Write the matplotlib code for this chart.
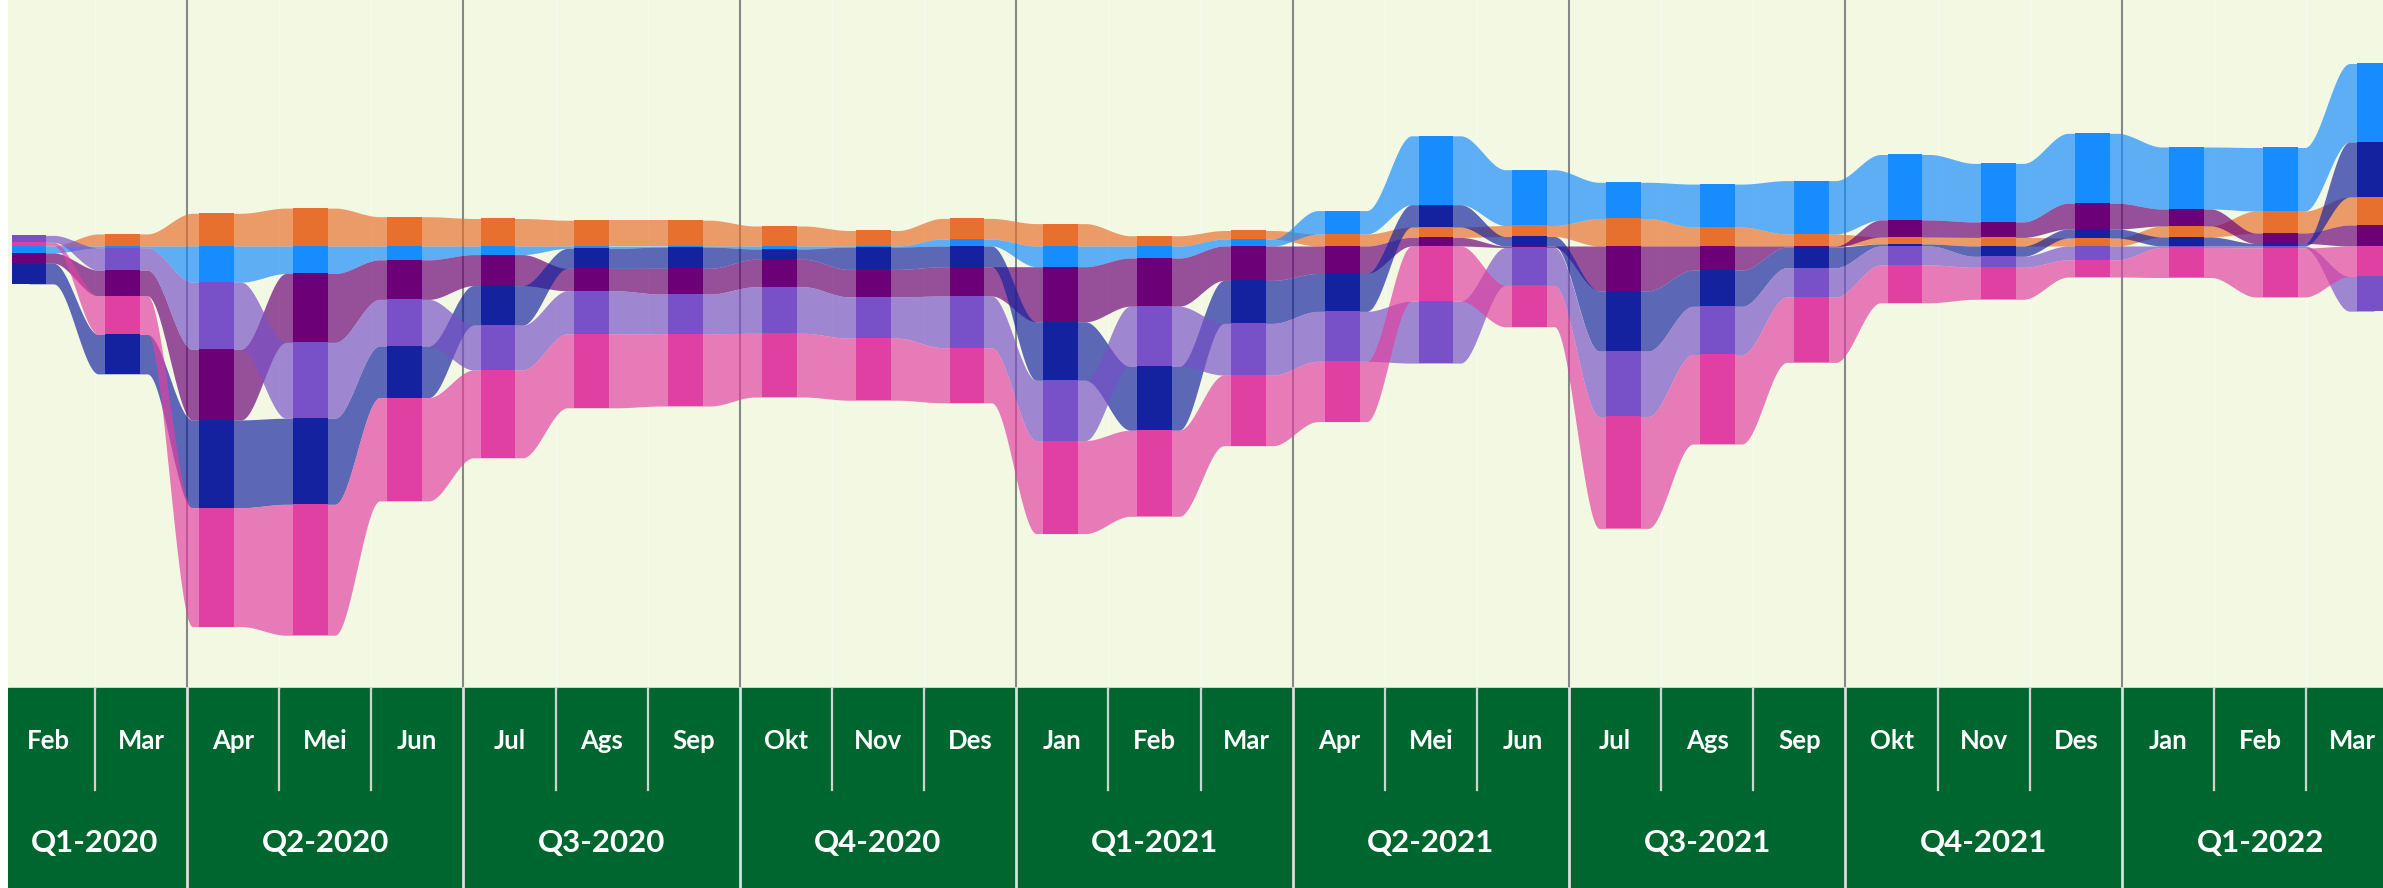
"""Ribbon chart, monthly values Feb-2020 .. Mar-2022 with quarter band"""
import matplotlib
matplotlib.use('Agg')
import matplotlib.pyplot as plt
import numpy as np

plt.rcParams['font.family'] = ['Lato', 'DejaVu Sans']

months = ['Feb', 'Mar', 'Apr', 'Mei', 'Jun', 'Jul', 'Ags', 'Sep', 'Okt', 'Nov', 'Des',
          'Jan', 'Feb', 'Mar', 'Apr', 'Mei', 'Jun', 'Jul', 'Ags', 'Sep', 'Okt', 'Nov', 'Des',
          'Jan', 'Feb', 'Mar']
quarters = ['Q1-2020', 'Q2-2020', 'Q3-2020', 'Q4-2020', 'Q1-2021',
            'Q2-2021', 'Q3-2021', 'Q4-2021', 'Q1-2022']
quarter_len = [2, 3, 3, 3, 3, 3, 3, 3, 3]

# values (positive = above the zero line)
orange     = [0.3, 12.1, 32.7, 37.9, 29.3, 27.5, 25.8, 25.8, 20.0, 15.5, 20.7, 22.4, 10.3,
              8.6, 12.0, 10.3, 11.0, 27.5, 18.9, 12.0, 6.9, 8.6, 8.0, 11.0, 22.0, 28.0]
light_blue = [-6.9, -1.7, -36.2, -27.5, -13.8, -8.6, -2.4, -1.0, -3.0, -1.0, 6.9, -20.7, -12.0,
              6.9, 23.4, 68.9, 55.8, 36.2, 43.0, 53.4, 65.4, 58.5, 69.9, 62.0, 63.5, 78.5]
purple     = [-10.3, -25.8, -70.6, -68.9, -39.6, -31.0, -22.4, -25.8, -27.5, -27.5, -29.3, -55.1, -48.2,
              -34.4, -27.5, 8.6, -1.5, -44.8, -24.1, -1.0, 17.2, 15.5, 25.8, 17.0, 10.5, 21.0]
navy       = [-20.7, -39.5, -87.8, -86.1, -51.7, -39.6, -20.0, -21.3, -10.3, -22.4, -20.7, -58.5, -63.7,
              -43.0, -37.9, 22.4, 9.5, -60.3, -36.2, -20.7, 2.0, -10.3, 9.0, 9.0, 2.5, 55.0]
violet     = [6.9, -22.4, -67.1, -75.8, -46.5, -44.8, -43.0, -39.6, -46.5, -41.3, -51.7, -60.3, -60.3,
              -51.7, -49.9, -62.0, -37.9, -65.4, -48.2, -29.3, -18.9, -11.0, -13.8, -1.5, -2.0, -34.7]
pink       = [3.4, -38.5, -118.8, -130.9, -103.3, -87.8, -74.0, -72.3, -63.7, -62.0, -55.1, -93.0, -86.1,
              -70.6, -60.3, -55.1, -41.3, -111.9, -89.5, -65.4, -37.9, -32.0, -17.2, -30.0, -49.0, -30.5]

series = [orange, light_blue, purple, navy, violet, pink]
colors = ['#e8702e', '#168cff', '#6b0077', '#1422a0', '#7850c8', '#e040a2']

CREAM = '#f3f8e3'
GREEN = '#00662f'
W, H = 2383, 888

data = np.array(series, dtype=float)
n = data.shape[1]

# stack: smallest magnitude next to the zero line, positives up, negatives down
lo = np.zeros_like(data)
hi = np.zeros_like(data)
for i in range(n):
    v = data[:, i]
    pos, neg = 0.0, 0.0
    for k in np.argsort(np.abs(v)):
        if v[k] >= 0:
            lo[k, i], hi[k, i] = pos, pos + v[k]
            pos += v[k]
        else:
            lo[k, i], hi[k, i] = neg + v[k], neg
            neg += v[k]

fig = plt.figure(figsize=(W / 100, H / 100), dpi=100, facecolor='white')

# background + month/quarter band (x in label slots)
bg = fig.add_axes([8 / W, 0, 1 - 8 / W, 1])
bg.set_xlim((8 - 2.7) / 92.14, (W - 2.7) / 92.14)
bg.set_ylim(H, 0)
bg.axis('off')
band_top = 688
bg.axhspan(0, band_top, color=CREAM, zorder=0)
bg.axhspan(band_top, H, color=GREEN, zorder=0)

q_edges = np.cumsum(quarter_len)
for j in range(1, len(months)):
    if j in q_edges:
        bg.plot([j, j], [0, band_top], color='#878787', lw=1.5, zorder=1)
        bg.plot([j, j], [band_top, H], color='#dedede', lw=2.0, zorder=1)
    else:
        bg.plot([j, j], [0, band_top], color='#f8fbef', lw=1.0, zorder=1)
        bg.plot([j, j], [band_top, 790], color='#d2d2d2', lw=1.6, zorder=1)

for j, m in enumerate(months):
    bg.text(j + 0.5, 741, m, ha='center', va='center', color='white',
            fontsize=18.5, fontweight='bold')
starts = np.concatenate([[0], q_edges[:-1]])
for q, s, L in zip(quarters, starts, quarter_len):
    bg.text(s + L / 2, 843, q, ha='center', va='center', color='white',
            fontsize=22.5, fontweight='bold')

# ribbon plot (x in month index)
ax = fig.add_axes([8 / W, (H - band_top) / H, 1 - 8 / W, band_top / H])
ax.patch.set_alpha(0)
ax.set_xlim((8 - 29) / 93.8, (W - 29) / 93.8)
ax.set_ylim(-(band_top - 246), 246)
ax.axis('off')

bw = 0.37


def ease(x, i):
    # flat under the bars, S-shaped in the gap between them
    t = (x - (i + bw / 2)) / (1 - bw)
    t = np.clip((t - 0.12) / 0.76, 0, 1)
    return t * t * (3 - 2 * t)


for k, c in enumerate(colors):
    for i in range(n - 1):
        xs = np.linspace(i, i + 1, 120)
        s = ease(xs, i)
        top = hi[k, i] + (hi[k, i + 1] - hi[k, i]) * s
        bot = lo[k, i] + (lo[k, i + 1] - lo[k, i]) * s
        ax.fill_between(xs, bot, top, color=c, alpha=0.68, lw=0, zorder=2)

# solid columns on top of the ribbons
for k, c in enumerate(colors):
    ax.bar(np.arange(n), hi[k] - lo[k], bottom=lo[k], width=bw, color=c,
           linewidth=0, zorder=3)

fig.savefig('out.png', dpi=100, facecolor='white')
plt.close(fig)
